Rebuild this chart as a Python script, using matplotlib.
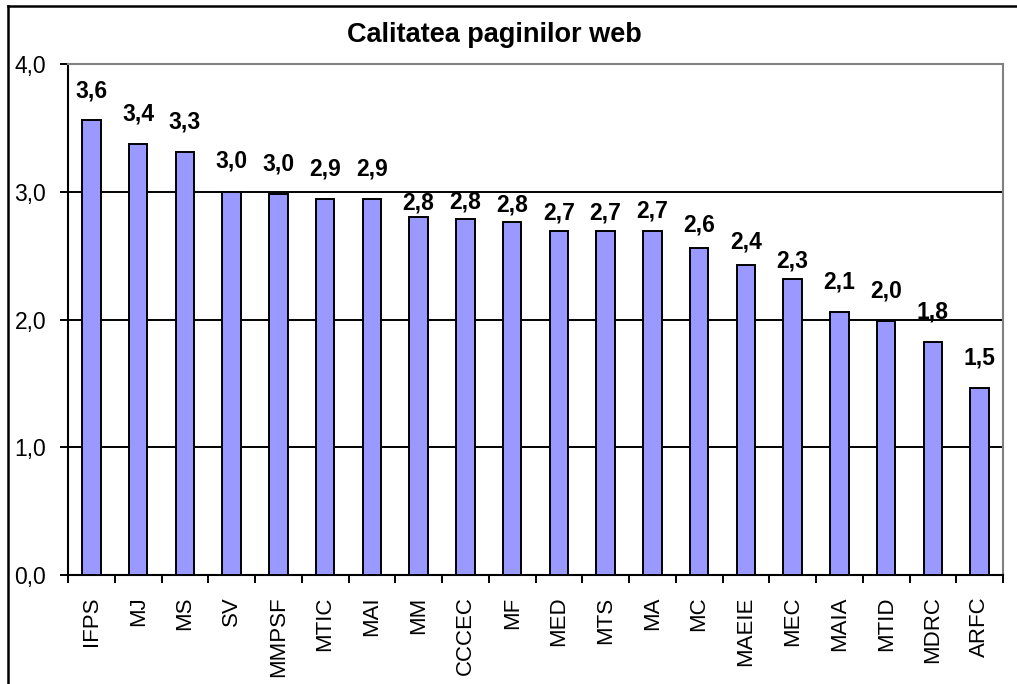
import numpy as np
import matplotlib
matplotlib.use('Agg')
import matplotlib.pyplot as plt
from matplotlib.lines import Line2D
from matplotlib.ticker import FuncFormatter, FixedLocator

plt.rcParams['font.family'] = ['Liberation Sans', 'DejaVu Sans']

# Date
institutii = ['IFPS', 'MJ', 'MS', 'SV', 'MMPSF', 'MTIC', 'MAI', 'MM', 'CCCEC', 'MF',
              'MED', 'MTS', 'MA', 'MC', 'MAEIE', 'MEC', 'MAIA', 'MTID', 'MDRC', 'ARFC']
scor = [3.56, 3.37, 3.31, 3.0, 2.98, 2.94, 2.94, 2.80, 2.79, 2.76,
        2.69, 2.69, 2.69, 2.56, 2.43, 2.32, 2.06, 1.99, 1.82, 1.46]
titlu = 'Calitatea paginilor web'

# distanta eticheta - bara (pixeli), ca in original
label_gap_px = [18, 19, 19, 19, 19, 19, 19, 3, 5, 6, 7, 7, 9, 11, 11, 6, 18, 18, 19, 19]

W, H = 1017, 684
fig = plt.figure(figsize=(W / 100, H / 100), dpi=100)
ax = fig.add_axes([68 / W, 1 - 575 / H, (1003 - 68) / W, (575 - 64) / H])

x = np.arange(len(institutii))
bare = ax.bar(x, scor, width=0.4, color='#9999FF', edgecolor='black', linewidth=1.4, zorder=3)

for xi, v, g in zip(x, scor, label_gap_px):
    ax.annotate(f'{v:.1f}'.replace('.', ','), (xi, v), xytext=(0, g),
                textcoords='offset pixels', ha='center', va='bottom',
                fontsize=16.5, fontweight='bold', zorder=4)

ax.set_xlim(-0.5, len(institutii) - 0.5)
ax.set_ylim(0, 4)
ax.set_yticks([0, 1, 2, 3, 4])
ax.yaxis.set_major_formatter(FuncFormatter(lambda v, p: f'{v:.1f}'.replace('.', ',')))
for yv in [1, 2, 3]:
    ax.axhline(yv, color='black', linewidth=1.4, zorder=1)

ax.set_xticks(x)
ax.set_xticklabels(institutii, rotation=90, fontsize=16)
ax.xaxis.set_minor_locator(FixedLocator(np.arange(-0.5, len(institutii), 1.0)))
ax.tick_params(axis='x', which='major', length=0, pad=15.5)
ax.tick_params(axis='x', which='minor', length=5.5, width=1.4, direction='out')
ax.tick_params(axis='y', length=5.8, width=1.4, direction='out', labelsize=16.5, pad=10)

ax.spines['left'].set_color('black')
ax.spines['bottom'].set_color('black')
ax.spines['top'].set_color('#808080')
ax.spines['right'].set_color('#808080')
for s in ax.spines.values():
    s.set_linewidth(1.5)
ax.set_facecolor('white')

fig.text(494 / W, 1 - 42 / H, titlu, ha='center', va='baseline',
         fontsize=19.5, fontweight='bold')

# chenarul graficului (taiat in dreapta si jos)
fig.add_artist(Line2D([8 / W, 8 / W], [1 - 6 / H, 0], transform=fig.transFigure,
                      color='black', linewidth=1.8))
fig.add_artist(Line2D([8 / W, 1], [1 - 6 / H, 1 - 6 / H], transform=fig.transFigure,
                      color='black', linewidth=1.8))

fig.savefig('out.png', dpi=100)
